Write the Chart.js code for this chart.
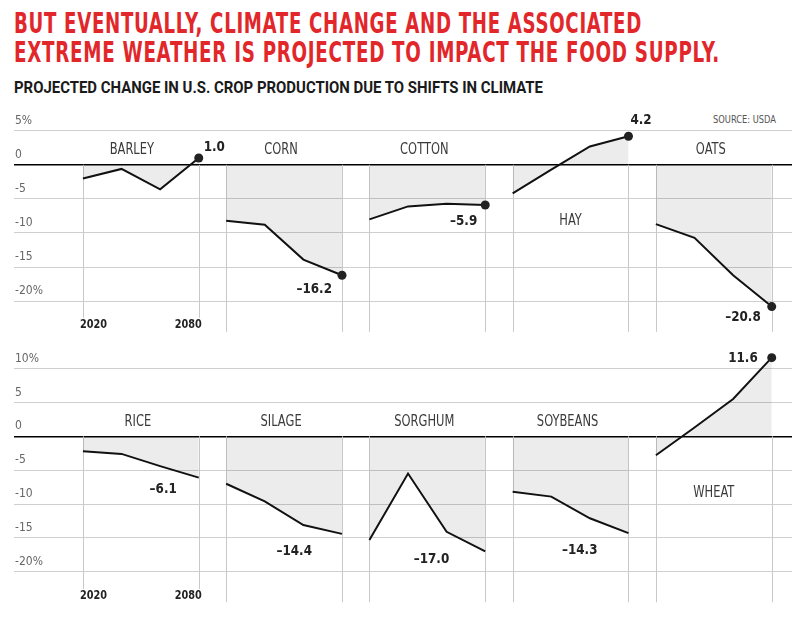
<!DOCTYPE html>
<html>
<head>
<meta charset="utf-8">
<script src="https://cdn.jsdelivr.net/npm/chart.js@4.4.1/dist/chart.umd.min.js"></script>
<style>
  body { margin: 0; background: #fff; width: 801px; height: 637px; position: relative; overflow: hidden; }
  .fit { position: absolute; left: 14px; white-space: nowrap; transform-origin: 0 0; display: inline-block; }
  .title { font-family: 'DejaVu Sans Condensed', 'DejaVu Sans', sans-serif; font-weight: bold; font-size: 29px; line-height: 29px; color: #e2272b; letter-spacing: 1px; }
  .sub { font-family: Roboto, sans-serif; font-weight: 700; font-size: 16px; line-height: 16px; color: #1a1a1a; }
  .source { font-family: 'DejaVu Sans Condensed', 'DejaVu Sans', sans-serif; font-size: 10px; line-height: 10px; color: #555; }
  canvas { position: absolute; left: 0; }
</style>
</head>
<body>
<div class="fit title" style="top:8.6px" data-w="628">BUT EVENTUALLY, CLIMATE CHANGE AND THE ASSOCIATED</div>
<div class="fit title" style="top:37.6px" data-w="706">EXTREME WEATHER IS PROJECTED TO IMPACT THE FOOD SUPPLY.</div>
<div class="fit sub" style="top:80px" data-w="529">PROJECTED CHANGE IN U.S. CROP PRODUCTION DUE TO SHIFTS IN CLIMATE</div>
<div class="fit source" style="top:115px; left:713px" data-w="63">SOURCE: USDA</div>

<canvas id="rowTop" width="801" height="240" style="top:100px"></canvas>
<canvas id="rowBottom" width="801" height="275" style="top:340px"></canvas>

<script>
// données (variation en %)
const years = [2020, 2040, 2060, 2080];

const topCrops = ['BARLEY', 'CORN', 'COTTON', 'HAY', 'OATS'];
const barley = [-2.0, -0.6, -3.6, 1.0];
const corn = [-8.2, -8.8, -13.9, -16.2];
const cotton = [-8.0, -6.1, -5.7, -5.9];
const hay = [-4.2, -0.7, 2.7, 4.2];
const oats = [-8.7, -10.7, -16.2, -20.8];
const topTicks = [5, 0, -5, -10, -15, -20];

const bottomCrops = ['RICE', 'SILAGE', 'SORGHUM', 'SOYBEANS', 'WHEAT'];
const rice = [-2.2, -2.6, -4.4, -6.1];
const silage = [-7.0, -9.6, -13.1, -14.4];
const sorghum = [-15.3, -5.5, -14.1, -17.0];
const soybeans = [-8.2, -8.9, -12.1, -14.3];
const wheat = [-2.8, 1.3, 5.5, 11.6];
const bottomTicks = [10, 5, 0, -5, -10, -15, -20];

// mise en page
const PANEL_STEP = 74.2;   // écart entre panneaux, en années
const FONT = "'DejaVu Sans Condensed', 'DejaVu Sans', sans-serif";

// ajuste les titres à leur largeur
document.querySelectorAll('[data-w]').forEach(el => {
    const w = el.getBoundingClientRect().width;
    el.style.transform = 'scaleX(' + (el.dataset.w / w) + ')';
});

function drawText(ctx, text, x, y, font, color, align, sx) {
    ctx.save();
    ctx.font = font;
    ctx.fillStyle = color;
    ctx.textAlign = align;
    ctx.textBaseline = 'middle';
    ctx.translate(x, y);
    ctx.scale(sx, 1);
    ctx.fillText(text, 0, 0);
    ctx.restore();
}

function fmt(v) {
    return (v < 0 ? '–' : '') + Math.abs(v).toFixed(1);
}

const decor = {
    id: 'decor',
    beforeDatasetsDraw(chart, args, opts) {
        const { ctx, chartArea, scales: { x, y } } = chart;
        const y0 = y.getPixelForValue(0);
        ctx.save();
        ctx.strokeStyle = '#c8c8c8';
        ctx.lineWidth = 1;
        opts.crops.forEach((_, i) => {
            [years[0], years[years.length - 1]].forEach(yr => {
                const px = Math.round(x.getPixelForValue(i * PANEL_STEP + yr - years[0])) + 0.5;
                ctx.beginPath();
                ctx.moveTo(px, y0);
                ctx.lineTo(px, chartArea.bottom);
                ctx.stroke();
            });
        });
        ctx.restore();
    },
    afterDatasetsDraw(chart, args, opts) {
        const { ctx, chartArea, scales: { x, y } } = chart;
        const span = years[years.length - 1] - years[0];

        opts.crops.forEach((name, i) => {
            // nom de la culture
            const cx = x.getPixelForValue(i * PANEL_STEP + span / 2) + opts.nameDx[i];
            drawText(ctx, name, cx, y.getPixelForValue(opts.nameY[i]), '15px ' + FONT, '#3a3a3a', 'center', 0.85);

            // valeur finale
            const last = opts.series[i][years.length - 1];
            const lab = opts.valueLabels[i];
            const px = x.getPixelForValue(i * PANEL_STEP + span);
            const py = y.getPixelForValue(last);
            drawText(ctx, fmt(last), px + lab.dx, py + lab.dy, 'bold 14px ' + FONT, '#222', lab.align, 0.95);
        });

        // années sous le premier panneau
        const cy = chartArea.bottom - opts.yearGap;
        ctx.save();
        ctx.font = 'bold 12px ' + FONT;
        [[years[0], 'left', -3], [years[years.length - 1], 'right', 3]].forEach(([yr, align, dx]) => {
            const px = x.getPixelForValue(yr - years[0]) + dx;
            const w = ctx.measureText(String(yr)).width * 0.9;
            ctx.fillStyle = '#fff';
            ctx.fillRect(align === 'left' ? px - 2 : px - w - 2, cy - 7, w + 4, chartArea.bottom - cy + 9);
        });
        ctx.restore();
        [[years[0], 'left', -3], [years[years.length - 1], 'right', 3]].forEach(([yr, align, dx]) => {
            const px = x.getPixelForValue(yr - years[0]) + dx;
            drawText(ctx, String(yr), px, cy, 'bold 12px ' + FONT, '#222', align, 0.9);
        });
    }
};

function makeRow(id, crops, series, ticks, cfg) {
    const datasets = crops.map((name, i) => ({
        label: name,
        data: years.map((yr, j) => ({ x: i * PANEL_STEP + yr - years[0], y: series[i][j] })),
        borderColor: '#111',
        borderWidth: 2,
        backgroundColor: 'rgba(0,0,0,0.075)',
        fill: 'origin',
        tension: 0,
        pointRadius: c => (cfg.dots[i] && c.dataIndex === years.length - 1) ? 4.5 : 0,
        pointBackgroundColor: '#222',
        pointBorderWidth: 0,
        clip: false
    }));

    return new Chart(document.getElementById(id), {
        type: 'line',
        data: { datasets },
        options: {
            responsive: false,
            animation: false,
            events: [],
            layout: { padding: cfg.padding, autoPadding: false },
            plugins: {
                legend: { display: false },
                tooltip: { enabled: false },
                decor: {
                    crops, series,
                    nameY: cfg.nameY,
                    nameDx: cfg.nameDx,
                    valueLabels: cfg.valueLabels,
                    yearGap: cfg.yearGap
                }
            },
            scales: {
                x: { type: 'linear', display: false, min: -35.7, max: 367.3 },
                y: {
                    min: cfg.yMin,
                    max: cfg.yMax,
                    afterBuildTicks: s => { s.ticks = ticks.map(v => ({ value: v })); },
                    border: { display: false },
                    grid: {
                        drawTicks: false,
                        color: c => c.tick && c.tick.value === 0 ? '#000' : '#cfcfcf',
                        lineWidth: c => c.tick && c.tick.value === 0 ? 1.5 : 1
                    },
                    ticks: {
                        mirror: true,
                        padding: 1,
                        labelOffset: -10,
                        color: '#666',
                        font: { family: FONT, size: 12 },
                        callback: v => (v === ticks[0] || v === ticks[ticks.length - 1]) ? v + '%' : String(v)
                    }
                }
            }
        },
        plugins: [decor]
    });
}

makeRow('rowTop', topCrops, [barley, corn, cotton, hay, oats], topTicks, {
    yMin: -24.5, yMax: 8,
    padding: { left: 12, right: 9, top: 10.3, bottom: 7.4 },
    dots: [true, true, true, true, true],
    nameY: [2.1, 2.1, 2.1, -8.3, 2.1],
    nameDx: [-9, -3, -3, 0, -3],
    valueLabels: [
        { dx: 5, dy: -11, align: 'left' },
        { dx: -10, dy: 14, align: 'right' },
        { dx: -8, dy: 16, align: 'right' },
        { dx: 2, dy: -16, align: 'left' },
        { dx: -11, dy: 11, align: 'right' }
    ],
    yearGap: 7
});

makeRow('rowBottom', bottomCrops, [rice, silage, sorghum, soybeans, wheat], bottomTicks, {
    yMin: -24.5, yMax: 13,
    padding: { left: 12, right: 9, top: 6.2, bottom: 12.7 },
    dots: [false, false, false, false, true],
    nameY: [2.1, 2.1, 2.1, 2.1, -8.4],
    nameDx: [-3, -3, -3, -3, 0],
    valueLabels: [
        { dx: -22, dy: 12, align: 'right' },
        { dx: -30, dy: 17.6, align: 'right' },
        { dx: -36, dy: 8, align: 'right' },
        { dx: -31, dy: 17, align: 'right' },
        { dx: -14, dy: 1, align: 'right' }
    ],
    yearGap: 6.3
});
</script>
</body>
</html>
